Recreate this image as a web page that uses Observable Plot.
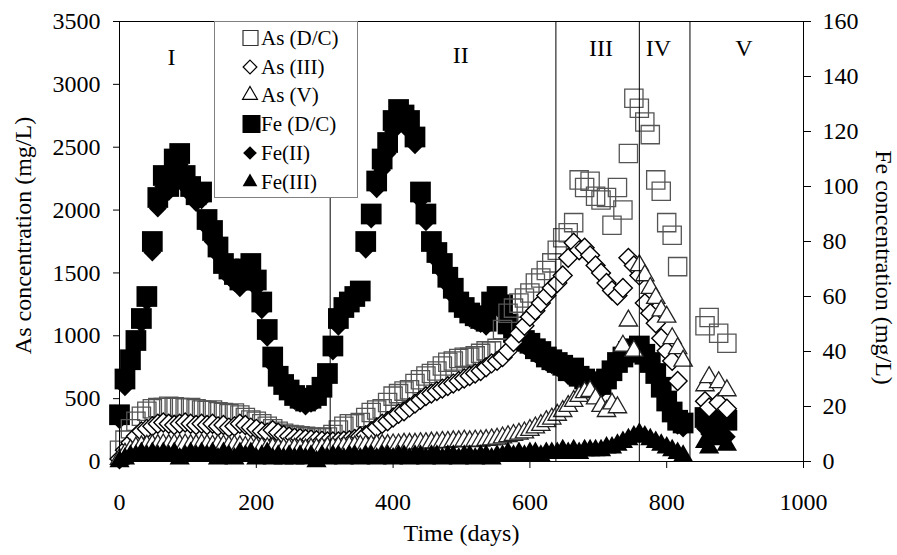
<!DOCTYPE html>
<html><head><meta charset="utf-8">
<script src="https://cdn.jsdelivr.net/npm/d3@7"></script>
<script src="https://cdn.jsdelivr.net/npm/@observablehq/plot@0.6"></script>
<style>
html,body{margin:0;padding:0;background:#fff;}
#chart{width:897px;height:555px;}
</style></head><body><div id="chart"></div>
<script>
// Sampling days
const days = [0,8,16,24,32,40,48,56,
 64,72,80,88,96,104,112,120,
 128,136,144,152,160,168,176,184,
 192,200,208,216,224,232,240,248,
 256,264,272,280,288,296,304,312,
 320,328,336,344,352,360,368,376,
 384,392,400,408,416,424,432,440,
 448,456,464,472,480,488,496,504,
 512,520,528,536,544,552,560,568,
 576,584,592,600,608,616,624,632,
 640,648,656,664,672,680,688,696,
 704,712,720,728,736,744,752,760,
 768,776,784,792,800,808,816,824,
 856,862,876,888];

// As (mg/L), left axis
const asDC = [90,170,260,320,360,400,420,430,
 430,440,435,430,425,430,420,410,
 405,410,395,390,380,385,370,350,
 330,320,300,280,260,240,225,215,
 210,205,200,195,190,190,195,215,
 250,280,300,300,310,350,390,410,
 420,470,520,540,560,570,620,650,
 680,700,720,760,790,800,820,830,
 830,840,860,880,880,900,1050,1180,
 1220,1260,1300,1340,1420,1460,1520,1580,
 1680,1780,1820,1900,2240,2180,2230,2110,
 2080,2100,1880,2180,2000,2450,2890,2810,
 2700,2600,2240,2150,1900,1800,1550,null,
 1080,1145,1020,940];

const asIII = [20,90,150,200,240,260,280,300,
 310,300,290,300,310,300,290,300,
 290,300,280,290,270,280,300,290,
 270,260,240,230,250,230,210,200,
 190,185,180,175,170,165,160,160,
 160,165,170,180,200,210,240,270,
 300,320,350,380,400,430,460,490,
 520,540,560,580,600,620,640,660,
 680,700,720,750,780,800,830,880,
 950,1020,1080,1150,1200,1260,1320,1380,
 1420,1480,1620,1740,1680,1700,1640,1560,
 1500,1420,1360,1320,1380,1620,1560,1480,
 1260,1180,1100,980,880,800,640,null,
 480,430,470,420];

const asV = [20,60,90,110,120,125,130,130,
 135,130,135,130,135,130,130,135,
 130,125,130,125,120,125,120,115,
 115,110,110,105,105,100,100,100,
 100,100,95,100,100,105,110,110,
 115,115,120,120,125,125,125,130,
 130,130,135,135,140,140,140,145,
 145,150,150,155,155,160,160,165,
 160,165,165,170,175,180,190,200,
 210,220,230,250,270,290,320,340,
 370,400,440,480,520,550,560,500,
 440,400,460,430,920,1120,880,1560,
 1480,1380,1300,1200,1150,980,900,800,
 605,670,630,565];

// Fe (mg/L), right axis
const feDC = [17,30,37,44,52,60,80,96,
 104,100,110,112,104,100,97,98,
 88,84,78,72,70,68,66,70,
 72,66,58,48,38,31,28,26,
 24,23,22,23,24,27,32,42,
 52,56,58,60,62,80,90,102,
 110,116,124,128,126,124,118,98,
 90,80,76,72,67,63,58,56,
 54,53,52,51,58,60,57,50,
 47,45,44,43,41,40,38,37,
 36,35,33,34,31,30,29,28,
 28,30,33,36,38,40,41,42,
 39,36,32,27,22,18,15,14,
 16,15,14,15];

const feII = [15,27,35,42,50,58,76,92,
 100,98,106,108,100,97,94,95,
 85,80,75,70,67,65,63,67,
 70,63,55,45,35,29,26,24,
 22,21,20,21,22,25,30,40,
 49,54,56,58,60,77,88,99,
 106,112,120,124,122,120,115,95,
 87,78,73,69,64,60,56,54,
 52,51,50,49,55,57,54,48,
 45,43,42,41,39,38,36,35,
 34,33,31,32,29,28,27,26,
 26,28,31,34,36,38,39,40,
 37,34,30,25,20,16,13,12,
 12,10,13,9];

const feIII = [0,1,2,2,3,2,3,2,
 3,2,3,1,2,3,2,3,
 2,3,1,3,2,1,3,2,
 3,1,2,3,1,2,1,2,
 1,2,1,2,0,2,1,2,
 2,1,2,2,1,2,2,1,
 2,2,1,2,2,1,2,2,
 1,2,2,1,2,2,1,2,
 2,1,2,2,1,2,2,3,
 2,3,2,3,3,2,3,3,
 3,4,3,4,3,4,4,4,
 4,5,5,6,7,8,9,10,
 9,8,7,6,5,4,3,2,
 7,5,8,6];

// Phases
const phaseBounds = [308, 638, 760, 834];
const phaseNames = ["I","II","III","IV","V"];
const phaseDay = [76, 499, 704, 788, 913];
const phaseAs = [3214, 3230, 3285, 3285, 3285];

// Axes
const xTicks = [0,200,400,600,800,1000];
const asTicks = [0,500,1000,1500,2000,2500,3000,3500];
const feTicks = [0,20,40,60,80,100,120,140,160];
const AS_MAX = 3500, FE_MAX = 160;
const feScale = AS_MAX / FE_MAX;

const legendLabels = ["As (D/C)","As (III)","As (V)","Fe (D/C)","Fe(II)","Fe(III)"];

function toRows(vals, factor) {
  const out = [];
  days.forEach((d, i) => { if (vals[i] != null) out.push({day: d, v: vals[i] * factor}); });
  return out;
}

const font = "'Liberation Serif','Times New Roman',serif";

const plot = Plot.plot({
  width: 897, height: 555,
  marginLeft: 119, marginRight: 94, marginTop: 21, marginBottom: 94,
  style: {fontFamily: font, fontSize: "24px", color: "#000", background: "#fff", overflow: "visible"},
  x: {domain: [0, 1000]},
  y: {domain: [0, AS_MAX]},
  marks: [
    Plot.dot(toRows(feDC, feScale), {x: "day", y: "v", symbol: "square", r: 11.7, fill: "#000", stroke: "none"}),
    Plot.dot(toRows(feII, feScale), {x: "day", y: "v", symbol: "diamond2", r: 8, fill: "#000", stroke: "none"}),
    Plot.dot(toRows(asDC, 1), {x: "day", y: "v", symbol: "square", r: 10.3, fill: "none", stroke: "#555", strokeWidth: 1.3}),
    Plot.dot(toRows(asIII, 1), {x: "day", y: "v", symbol: "diamond2", r: 8.5, fill: "#fff", stroke: "#000", strokeWidth: 1.4}),
    Plot.dot(toRows(asV, 1), {x: "day", y: "v", symbol: "triangle", r: 6.8, fill: "#fff", stroke: "#222", strokeWidth: 1.3}),
    Plot.dot(toRows(feIII, feScale), {x: "day", y: "v", symbol: "triangle", r: 7.5, fill: "#000", stroke: "none"}),
    Plot.ruleX(phaseBounds, {stroke: "#000", strokeWidth: 1}),
    Plot.frame({stroke: "#000", strokeWidth: 1}),
    Plot.text(phaseNames, {x: (d, i) => phaseDay[i], y: (d, i) => phaseAs[i], text: d => d, fontSize: 24, fill: "#000"}),
    Plot.axisX({ticks: xTicks, anchor: "bottom", tickSize: 7, tickPadding: 24, label: null, fontSize: 24, tickFormat: d => String(d)}),
    Plot.axisY({ticks: asTicks, anchor: "left", tickSize: 6, tickPadding: 13, label: null, fontSize: 24, tickFormat: d => String(d)}),
    Plot.axisY({ticks: feTicks.map(v => v * feScale), anchor: "right", tickSize: 7, tickPadding: 12, label: null, fontSize: 24, tickFormat: d => String(Math.round(d / feScale))}),
    Plot.text(["As concentration (mg/L)"], {frameAnchor: "left", textAnchor: "middle", rotate: -90, dx: -96, dy: -6, fontSize: 24}),
    Plot.text(["Fe concentration (mg/L)"], {frameAnchor: "right", textAnchor: "middle", rotate: 90, dx: 80, dy: 26, fontSize: 24}),
    Plot.text(["Time (days)"], {frameAnchor: "bottom", dy: 79, fontSize: 24})
  ]
});

document.getElementById("chart").appendChild(plot);

// Legend box
const svg = d3.select(plot);
const lg = svg.append("g");
lg.append("rect").attr("x", 214.5).attr("y", 21.5).attr("width", 143).attr("height", 176)
  .attr("fill", "#fff").attr("stroke", "#808080").attr("stroke-width", 1);
const legY = [38, 67, 95, 124, 153, 182];
const legSym = [
  {type: d3.symbolSquare, size: 15*15, fill: "#fff", stroke: "#333", x: 250.5},
  {type: d3.symbolDiamond2, size: 120, fill: "#fff", stroke: "#000", x: 250},
  {type: d3.symbolTriangle, size: 95, fill: "#fff", stroke: "#000", x: 250},
  {type: d3.symbolSquare, size: 18*18, fill: "#000", stroke: "none", x: 251.5},
  {type: d3.symbolDiamond2, size: 120, fill: "#000", stroke: "none", x: 250},
  {type: d3.symbolTriangle, size: 95, fill: "#000", stroke: "none", x: 250}
];
legendLabels.forEach((lab, i) => {
  const s = legSym[i];
  lg.append("path").attr("d", d3.symbol(s.type, s.size)())
    .attr("transform", `translate(${s.x},${legY[i]})`)
    .attr("fill", s.fill).attr("stroke", s.stroke).attr("stroke-width", 1.2);
  lg.append("text").attr("x", 261).attr("y", legY[i]).attr("dy", "0.35em")
    .attr("text-anchor", "start")
    .attr("font-family", font).attr("font-size", 21).attr("fill", "#000").text(lab);
});
</script>
</body></html>
